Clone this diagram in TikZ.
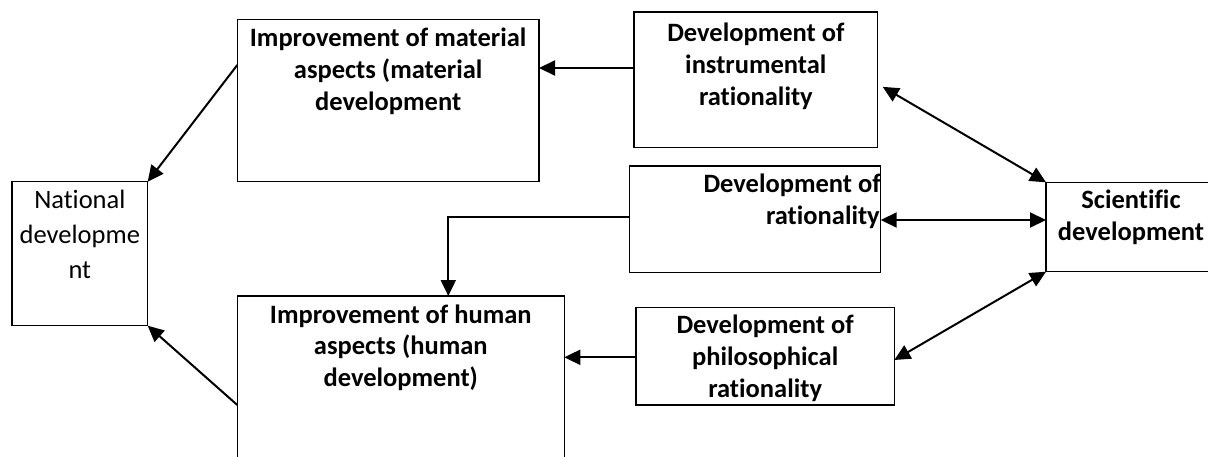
\documentclass[tikz,border=0pt]{standalone}
\usepackage{fontspec}
\setmainfont{Carlito}[Ligatures=CommonOff]
\usetikzlibrary{arrows.meta}
\newcommand{\inbox}[4]{\parbox[c][#2][t]{#1}{\vspace*{#3}#4}}
\begin{document}
\begin{tikzpicture}[x=1pt,y=-1pt,
  box/.style={draw=black,line width=1.3pt,inner sep=0pt,outer sep=0pt,anchor=north west},
  bld/.style={font=\fontsize{26.5}{31.7}\selectfont\bfseries},
  reg/.style={font=\fontsize{26.5}{35}\selectfont},
  arr/.style={line width=2pt,-{Triangle[length=16pt,width=15pt]}},
  darr/.style={line width=2pt,{Triangle[length=16pt,width=15pt]}-{Triangle[length=16pt,width=15pt]}}]
\fill[white] (0,0) rectangle (1208,456);
\useasboundingbox (0,0) rectangle (1208,456);

\node[box,bld] (mat) at (237.3,19.7)
  {\inbox{301.7pt}{162pt}{4.8pt}{\centering\strut Improvement of material\\aspects (material\\development}};
\node[box,bld] (ins) at (634,12)
  {\inbox{243.7pt}{135.7pt}{7.5pt}{\centering\strut Development of\\instrumental\\rationality}};
\node[box,bld] (rat) at (629.3,166)
  {\inbox{251.4pt}{106.5pt}{4.5pt}{\raggedleft\strut Development of\hspace*{1pt}\\rationality\hspace*{1pt}}};
\node[box,bld] (sci) at (1046,182.3)
  {\inbox{170pt}{89.4pt}{4.5pt}{\centering\strut Scientific\\development}};
\node[box,reg] (nat) at (12,181.7)
  {\inbox{135.7pt}{144pt}{2.1pt}{\centering\strut National\\developme\\nt}};
\node[box,bld] (hum) at (237.3,296)
  {\inbox{327pt}{185pt}{5.1pt}{\centering\strut Improvement of human\\aspects (human\\development)}};
\node[box,bld] (phi) at (636,307.7)
  {\inbox{258.3pt}{97.3pt}{4.1pt}{\centering\strut Development of\\philosophical\\rationality}};

\draw[arr] (ins.west |- 0,68) -- (mat.east |- 0,68);
\draw[arr] (mat.west |- 0,65) -- (nat.north east);
\draw[arr] (rat.west |- 0,217) -| (hum.north -| 448.3,0);
\draw[darr] ([xshift=5pt,yshift=-7pt]ins.east) -- (sci.north west);
\draw[darr] (rat.east |- 0,220) -- (sci.west |- 0,220);
\draw[darr] (phi.east |- 0,360) -- (sci.south west);
\draw[arr] (phi.west |- 0,357.3) -- (hum.east |- 0,357.3);
\draw[arr] (hum.west |- 0,405) -- (nat.south east);
\end{tikzpicture}
\end{document}
